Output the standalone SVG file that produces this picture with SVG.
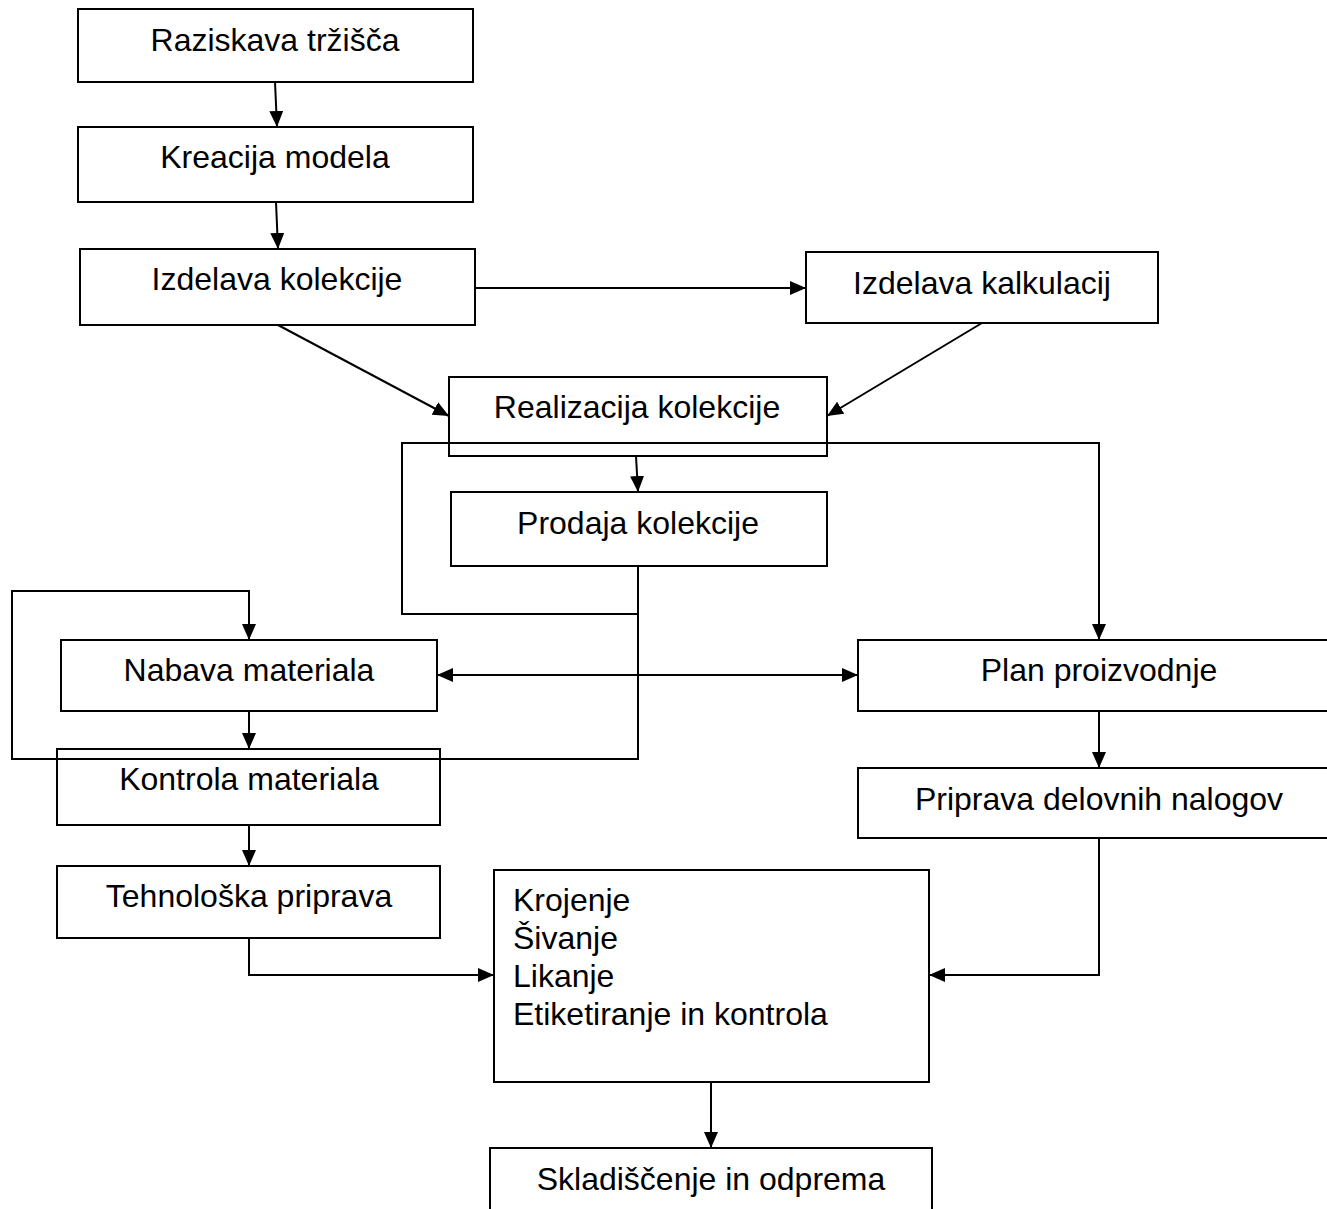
<svg xmlns="http://www.w3.org/2000/svg" width="1327" height="1209" viewBox="0 0 1327 1209">
<style>
.box{fill:#fff;stroke:#000;stroke-width:2}
.t{font-family:"Liberation Sans",Arial,sans-serif;font-size:32px;fill:#000;text-anchor:middle}
.tl{font-family:"Liberation Sans",Arial,sans-serif;font-size:32px;fill:#000}
.c{fill:none;stroke:#000;stroke-width:2}
.a{marker-end:url(#ah)}
</style>
<defs>
<marker id="ah" markerUnits="userSpaceOnUse" markerWidth="16" markerHeight="14" refX="16" refY="7" orient="auto">
<path d="M0,0 L16,7 L0,14 z" fill="#000"/>
</marker>
<marker id="as" markerUnits="userSpaceOnUse" markerWidth="16" markerHeight="14" refX="16" refY="7" orient="auto-start-reverse">
<path d="M0,0 L16,7 L0,14 z" fill="#000"/>
</marker>
</defs>
<rect width="1327" height="1209" fill="#fff"/>
<g id="n1"><rect class="box" x="78" y="9" width="395" height="73"/><text class="t" x="275" y="51">Raziskava tržišča</text></g>
<g id="n2"><rect class="box" x="78" y="127" width="395" height="75"/><text class="t" x="275" y="168">Kreacija modela</text></g>
<g id="n3"><rect class="box" x="80" y="249" width="395" height="76"/><text class="t" x="277" y="290">Izdelava kolekcije</text></g>
<g id="n4"><rect class="box" x="806" y="252" width="352" height="71"/><text class="t" x="982" y="294">Izdelava kalkulacij</text></g>
<g id="n5"><rect class="box" x="449" y="377" width="378" height="79"/><text class="t" x="637" y="418">Realizacija kolekcije</text></g>
<g id="n6"><rect class="box" x="451" y="492" width="376" height="74"/><text class="t" x="638" y="534">Prodaja kolekcije</text></g>
<g id="n7"><rect class="box" x="61" y="640" width="376" height="71"/><text class="t" x="249" y="681">Nabava materiala</text></g>
<g id="n8"><rect class="box" x="858" y="640" width="480" height="71"/><text class="t" x="1099" y="681">Plan proizvodnje</text></g>
<g id="n9"><rect class="box" x="57" y="749" width="383" height="76"/><text class="t" x="249" y="790">Kontrola materiala</text></g>
<g id="n10"><rect class="box" x="858" y="768" width="480" height="70"/><text class="t" x="1099" y="810">Priprava delovnih nalogov</text></g>
<g id="n11"><rect class="box" x="57" y="866" width="383" height="72"/><text class="t" x="249" y="907">Tehnološka priprava</text></g>
<g id="n12"><rect class="box" x="494" y="870" width="435" height="212"/>
<text class="tl" x="513" y="911">Krojenje</text>
<text class="tl" x="513" y="949">Šivanje</text>
<text class="tl" x="513" y="987">Likanje</text>
<text class="tl" x="513" y="1025">Etiketiranje in kontrola</text></g>
<g id="n13"><rect class="box" x="490" y="1148" width="442" height="90"/><text class="t" x="711" y="1190">Skladiščenje in odprema</text></g>
<g id="connectors">
<path class="c a" d="M275,82 L277,127"/>
<path class="c a" d="M276,202 L278,249"/>
<path class="c a" d="M475,288 L806,288"/>
<path class="c a" d="M278,325 L449,416"/>
<path class="c a" d="M982,323 L827,416"/>
<path class="c a" d="M636,456 L638,492"/>
<path class="c a" d="M638,614 L402,614 L402,443 L1099,443 L1099,640"/>
<path class="c a" d="M638,566 L638,759 L12,759 L12,591 L249,591 L249,640"/>
<path class="c a" d="M437,675 L858,675" marker-start="url(#as)"/>
<path class="c a" d="M249,711 L249,749"/>
<path class="c a" d="M249,825 L249,866"/>
<path class="c a" d="M249,938 L249,975 L494,975"/>
<path class="c a" d="M1099,711 L1099,768"/>
<path class="c a" d="M1099,838 L1099,975 L929,975"/>
<path class="c a" d="M711,1082 L711,1148"/>
</g>
</svg>
